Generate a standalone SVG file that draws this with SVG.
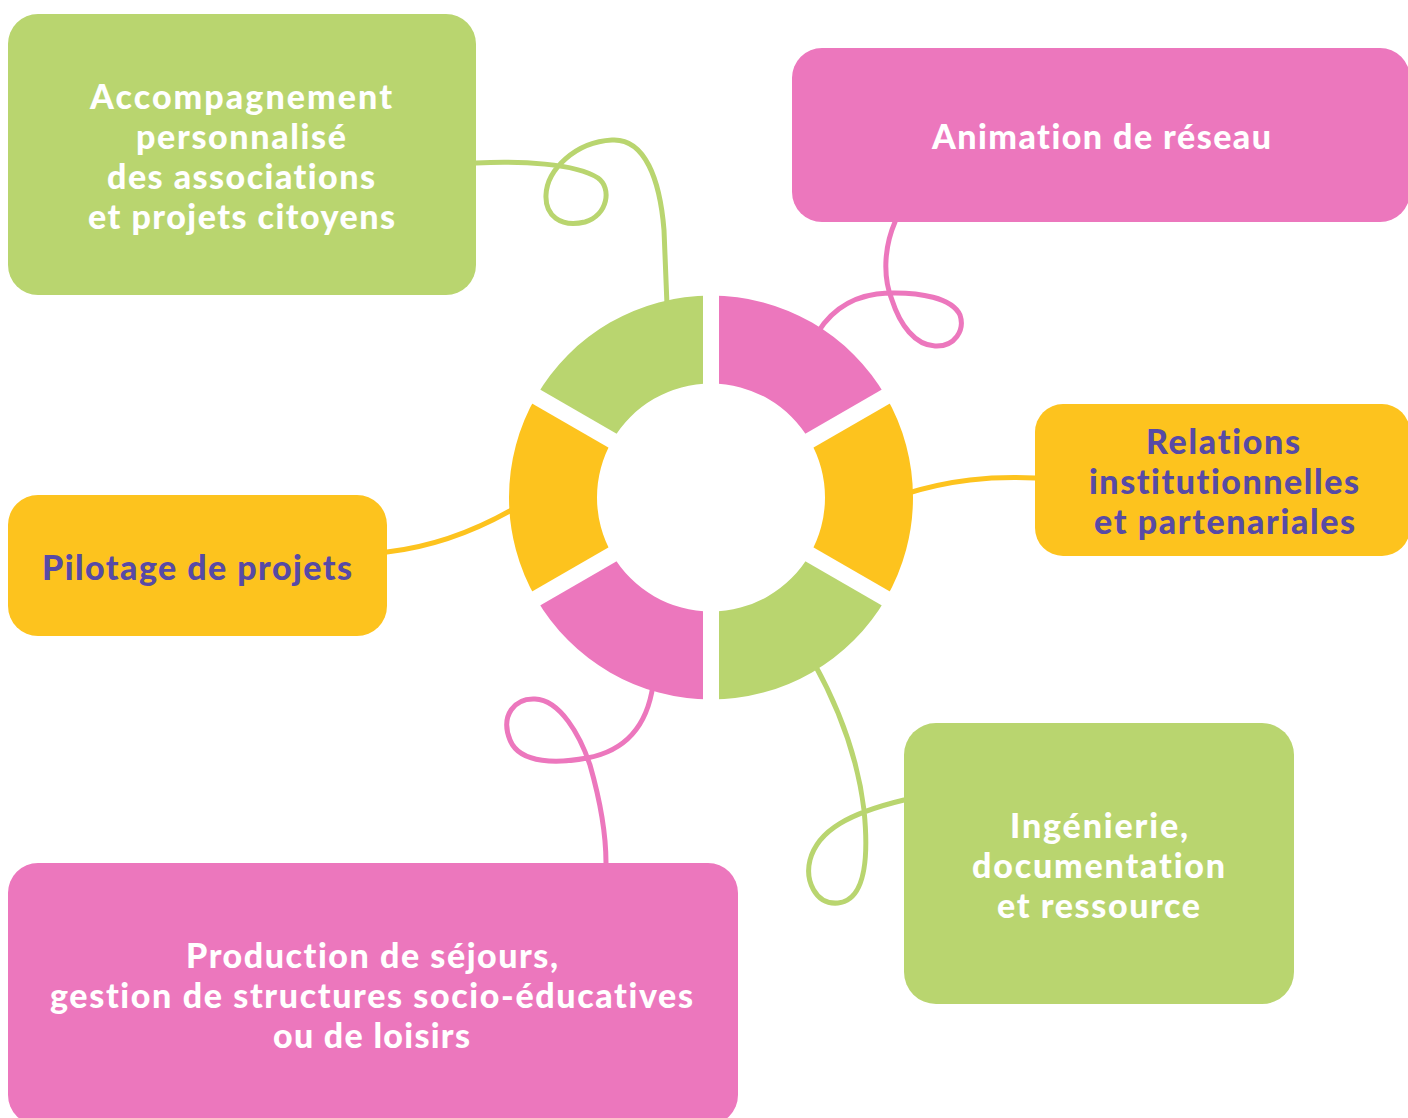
<svg xmlns="http://www.w3.org/2000/svg" width="1408" height="1118" viewBox="0 0 1408 1118">
<style>
.green{fill:#B9D56F}
.pink{fill:#EC77BD}
.yellow{fill:#FDC31E}
.lbl{font-family:Lato,"Open Sans","Liberation Sans",sans-serif;font-weight:900;font-size:34px;text-anchor:middle;font-variant-ligatures:none}
.w{fill:#FFFFFF}
.p{fill:#574AA6}
.c{fill:none;stroke-width:5;stroke-linecap:round;stroke-linejoin:round}
.cg{stroke:#B9D56F}
.cp{stroke:#EC77BD}
.cy{stroke:#FDC31E}
</style>
<rect width="1408" height="1118" fill="#FFFFFF"/>
<g id="connectors">
<path class="c cg" d="M476,163 C520,161 575,163 598,178 C612,188 608,215 585,222 C560,228 545,215 546,195 C547,170 575,142 612,140 C645,138 660,180 664,230 L667,305"/>
<path class="c cp" d="M895,222 C885,245 882,275 892,300 C900,325 915,345 935,346 C955,347 965,330 960,315 C952,298 920,292 888,293 C860,294 835,305 818,332"/>
<path class="c cy" d="M905,494 C950,480 990,476 1035,478"/>
<path class="c cy" d="M387,552 C430,547 470,534 515,508"/>
<path class="c cp" d="M653,685 C648,720 630,750 587,758 C560,763 520,765 510,740 C500,715 515,698 535,699 C560,700 580,735 590,765 C600,800 606,830 606,863"/>
<path class="c cg" d="M814,663 C840,710 858,760 864,810 C868,850 868,900 838,903 C815,905 805,880 810,860 C818,830 850,813 904,800"/>
</g>
<g id="wheel">
<path class="pink" d="M711,295.5 A202,202 0 0 1 885.94,396.5 L809.73,440.5 A114,114 0 0 0 711,383.5 Z"/>
<path class="yellow" d="M885.94,396.5 A202,202 0 0 1 885.94,598.5 L809.73,554.5 A114,114 0 0 0 809.73,440.5 Z"/>
<path class="green" d="M885.94,598.5 A202,202 0 0 1 711,699.5 L711,611.5 A114,114 0 0 0 809.73,554.5 Z"/>
<path class="pink" d="M711,699.5 A202,202 0 0 1 536.06,598.5 L612.27,554.5 A114,114 0 0 0 711,611.5 Z"/>
<path class="yellow" d="M536.06,598.5 A202,202 0 0 1 536.06,396.5 L612.27,440.5 A114,114 0 0 0 612.27,554.5 Z"/>
<path class="green" d="M536.06,396.5 A202,202 0 0 1 711,295.5 L711,383.5 A114,114 0 0 0 612.27,440.5 Z"/>
<g stroke="#FFFFFF" stroke-width="16">
<line x1="711" y1="288" x2="711" y2="707"/>
<line x1="894.6" y1="391.5" x2="527.4" y2="603.5"/>
<line x1="527.4" y1="391.5" x2="894.6" y2="603.5"/>
</g>
</g>
<g id="node-accompagnement">
<rect class="green" x="8" y="14" width="468" height="281" rx="30"/>
<text class="lbl w"><tspan x="241" y="109" textLength="302">Accompagnement</tspan><tspan x="241" y="149" textLength="210">personnalisé</tspan><tspan x="241" y="189" textLength="268">des associations</tspan><tspan x="241.5" y="229" textLength="307">et projets citoyens</tspan></text>
</g>
<g id="node-animation">
<rect class="pink" x="792" y="48" width="618" height="174" rx="30"/>
<text class="lbl w" x="1101.5" y="149" textLength="339">Animation de réseau</text>
</g>
<g id="node-relations">
<rect class="yellow" x="1035" y="404" width="375" height="152" rx="28"/>
<text class="lbl p"><tspan x="1223" y="454" textLength="154">Relations</tspan><tspan x="1224" y="494" textLength="270">institutionnelles</tspan><tspan x="1224.5" y="534" textLength="261">et partenariales</tspan></text>
</g>
<g id="node-pilotage">
<rect class="yellow" x="8" y="495" width="379" height="141" rx="30"/>
<text class="lbl p" x="197" y="580" textLength="310">Pilotage de projets</text>
</g>
<g id="node-ingenierie">
<rect class="green" x="904" y="723" width="390" height="281" rx="32"/>
<text class="lbl w"><tspan x="1099" y="838" textLength="178">Ingénierie,</tspan><tspan x="1098.5" y="878" textLength="253">documentation</tspan><tspan x="1098.5" y="918" textLength="203">et ressource</tspan></text>
</g>
<g id="node-production">
<rect class="pink" x="8" y="863" width="730" height="262" rx="30"/>
<text class="lbl w"><tspan x="372" y="968" textLength="372">Production de séjours,</tspan><tspan x="371.5" y="1008" textLength="643">gestion de structures socio-éducatives</tspan><tspan x="371.5" y="1048" textLength="197">ou de loisirs</tspan></text>
</g>
</svg>
